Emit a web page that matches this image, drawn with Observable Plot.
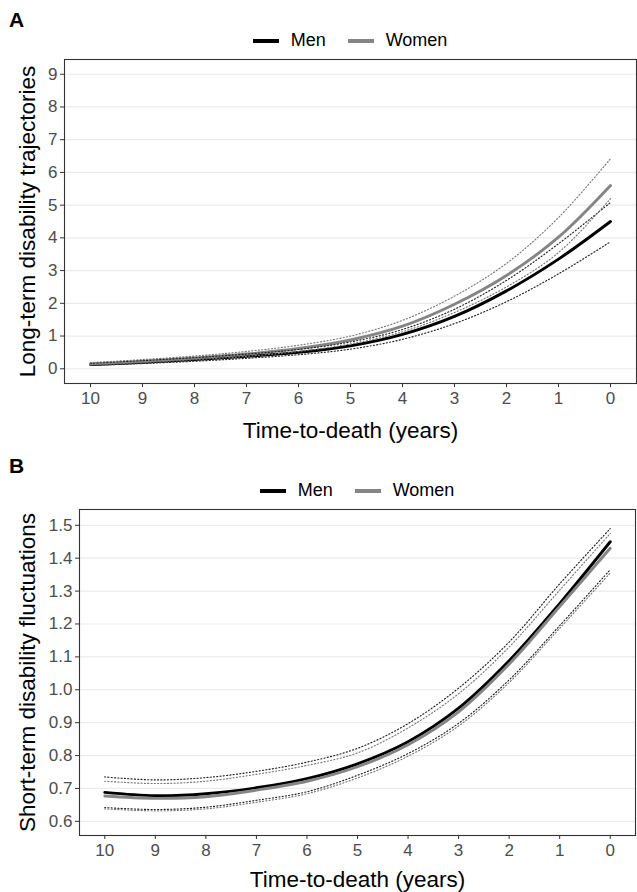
<!DOCTYPE html>
<html>
<head>
<meta charset="utf-8">
<script src="https://cdn.jsdelivr.net/npm/d3@7"></script>
<script src="https://cdn.jsdelivr.net/npm/@observablehq/plot@0.6"></script>
<style>
  body { margin:0; background:#fff; font-family:"Liberation Sans", Arial, sans-serif; }
  #root { width:637px; }
  .hdr { position:relative; }
  .tag { position:absolute; left:9px; font-weight:bold; font-size:21px; color:#000; }
  .legend { position:absolute; display:flex; justify-content:center; align-items:center; font-size:18px; color:#000; }
  .key { width:26px; height:4px; margin-right:12px; }
  .item { display:flex; align-items:center; margin:0 11px; }
  svg { overflow:visible; display:block; }
  svg g[aria-label$="tick label"] { fill:#4d4d4d; }
  svg g[aria-label$="tick"] { stroke:#333; }
</style>
</head>
<body>
<div id="root"></div>
<script>
// ---- data ----
const years = [10, 9, 8, 7, 6, 5, 4, 3, 2, 1, 0];
const seriesNames = ["Men", "Women"];
const xTicks = [10, 9, 8, 7, 6, 5, 4, 3, 2, 1, 0];

// Panel A: long-term disability trajectories
const menA      = [0.13, 0.20, 0.28, 0.38, 0.50, 0.70, 1.05, 1.60, 2.38, 3.35, 4.50];
const menA_lo   = [0.10, 0.16, 0.23, 0.32, 0.43, 0.60, 0.90, 1.38, 2.05, 2.90, 3.88];
const menA_hi   = [0.17, 0.25, 0.34, 0.45, 0.59, 0.82, 1.20, 1.82, 2.70, 3.82, 5.08];
const womenA    = [0.15, 0.23, 0.33, 0.45, 0.62, 0.88, 1.30, 1.97, 2.85, 4.02, 5.60];
const womenA_lo = [0.12, 0.19, 0.28, 0.38, 0.53, 0.76, 1.13, 1.72, 2.50, 3.55, 5.20];
const womenA_hi = [0.19, 0.28, 0.39, 0.53, 0.72, 1.00, 1.48, 2.22, 3.22, 4.62, 6.42];
const yTicksA   = [0, 1, 2, 3, 4, 5, 6, 7, 8, 9];

// Panel B: short-term disability fluctuations
const menB      = [0.688, 0.678, 0.684, 0.702, 0.730, 0.775, 0.842, 0.944, 1.088, 1.262, 1.450];
const menB_lo   = [0.642, 0.636, 0.643, 0.664, 0.690, 0.740, 0.806, 0.898, 1.030, 1.195, 1.365];
const menB_hi   = [0.735, 0.726, 0.733, 0.752, 0.780, 0.822, 0.897, 1.005, 1.145, 1.322, 1.490];
const womenB    = [0.677, 0.670, 0.675, 0.695, 0.722, 0.766, 0.833, 0.933, 1.078, 1.253, 1.430];
const womenB_lo = [0.638, 0.632, 0.638, 0.658, 0.684, 0.732, 0.798, 0.890, 1.022, 1.187, 1.355];
const womenB_hi = [0.722, 0.715, 0.722, 0.743, 0.770, 0.808, 0.884, 0.988, 1.130, 1.303, 1.475];
const yTicksB   = [0.6, 0.7, 0.8, 0.9, 1.0, 1.1, 1.2, 1.3, 1.4, 1.5];

const xLabel = "Time-to-death (years)";
const yLabelA = "Long-term disability trajectories";
const yLabelB = "Short-term disability fluctuations";
const colors = {Men: "#000000", Women: "#858585"};

function toRows(vals) { return years.map((t, i) => ({t, v: vals[i]})); }

function header(tag, height, legendTop, ml, mr) {
  const h = document.createElement("div");
  h.className = "hdr";
  h.style.height = height + "px";
  const tg = document.createElement("div");
  tg.className = "tag"; tg.textContent = tag; tg.style.top = "8px";
  if (tag === "B") tg.style.top = "9px";
  h.appendChild(tg);
  const lg = document.createElement("div");
  lg.className = "legend";
  lg.style.left = ml + "px"; lg.style.right = mr + "px"; lg.style.top = legendTop + "px";
  for (const s of seriesNames) {
    const it = document.createElement("div"); it.className = "item";
    const k = document.createElement("div"); k.className = "key"; k.style.background = colors[s];
    const tx = document.createElement("span"); tx.textContent = s;
    it.appendChild(k); it.appendChild(tx); lg.appendChild(it);
  }
  h.appendChild(lg);
  return h;
}

function panel(opts) {
  const {ml, mr, h, mb, ydomain, yticks, yfmt, men, menLo, menHi, women, womenLo, womenHi, ylabel, ydx, xdy} = opts;
  const dot = {strokeWidth: 1.15, strokeDasharray: "1.1,2.2", curve: "catmull-rom"};
  return Plot.plot({
    width: 637, height: h,
    marginTop: 4, marginLeft: ml, marginRight: mr, marginBottom: mb,
    style: {fontFamily: "'Liberation Sans', Arial, sans-serif", background: "#fff", overflow: "visible"},
    x: {domain: [10.5, -0.5]},
    y: {domain: ydomain},
    marks: [
      Plot.gridY(yticks, {stroke: "#ebebeb", strokeOpacity: 1, strokeWidth: 1.2}),
      Plot.line(toRows(men), {x: "t", y: "v", stroke: colors.Men, strokeWidth: 2.9, curve: "catmull-rom"}),
      Plot.line(toRows(women), {x: "t", y: "v", stroke: colors.Women, strokeWidth: 2.9, curve: "catmull-rom"}),
      Plot.line(toRows(menLo), {x: "t", y: "v", stroke: "#222", ...dot}),
      Plot.line(toRows(menHi), {x: "t", y: "v", stroke: "#222", ...dot}),
      Plot.line(toRows(womenLo), {x: "t", y: "v", stroke: "#777", ...dot}),
      Plot.line(toRows(womenHi), {x: "t", y: "v", stroke: "#777", ...dot}),
      Plot.frame({stroke: "#333", strokeWidth: 1.1}),
      Plot.axisX(xTicks, {tickSize: 4, tickPadding: 4, fontSize: 17, label: null}),
      Plot.axisY(yticks, {tickSize: 4, tickPadding: 3, fontSize: 17, label: null, tickFormat: yfmt}),
      Plot.text([xLabel], {text: d => d, frameAnchor: "bottom", dy: xdy, fontSize: 22.5, fill: "#000", lineAnchor: "middle", textAnchor: "middle"}),
      Plot.text([ylabel], {text: d => d, frameAnchor: "left", dx: ydx, rotate: -90, fontSize: 22.5, fill: "#000", lineAnchor: "middle", textAnchor: "middle"})
    ]
  });
}

const root = document.getElementById("root");
root.appendChild(header("A", 55, 30, 64, 1));
root.appendChild(panel({
  ml: 64, mr: 1, h: 390, mb: 62, ydomain: [-0.45, 9.45], yticks: yTicksA, yfmt: d3.format("d"),
  men: menA, menLo: menA_lo, menHi: menA_hi, women: womenA, womenLo: womenA_lo, womenHi: womenA_hi,
  ylabel: yLabelA, ydx: -37, xdy: 47
}));
root.appendChild(header("B", 60, 35, 79, 2));
root.appendChild(panel({
  ml: 79, mr: 2, h: 387, mb: 57, ydomain: [0.557, 1.548], yticks: yTicksB, yfmt: d3.format(".1f"),
  men: menB, menLo: menB_lo, menHi: menB_hi, women: womenB, womenLo: womenB_lo, womenHi: womenB_hi,
  ylabel: yLabelB, ydx: -52, xdy: 44
}));
</script>
</body>
</html>
